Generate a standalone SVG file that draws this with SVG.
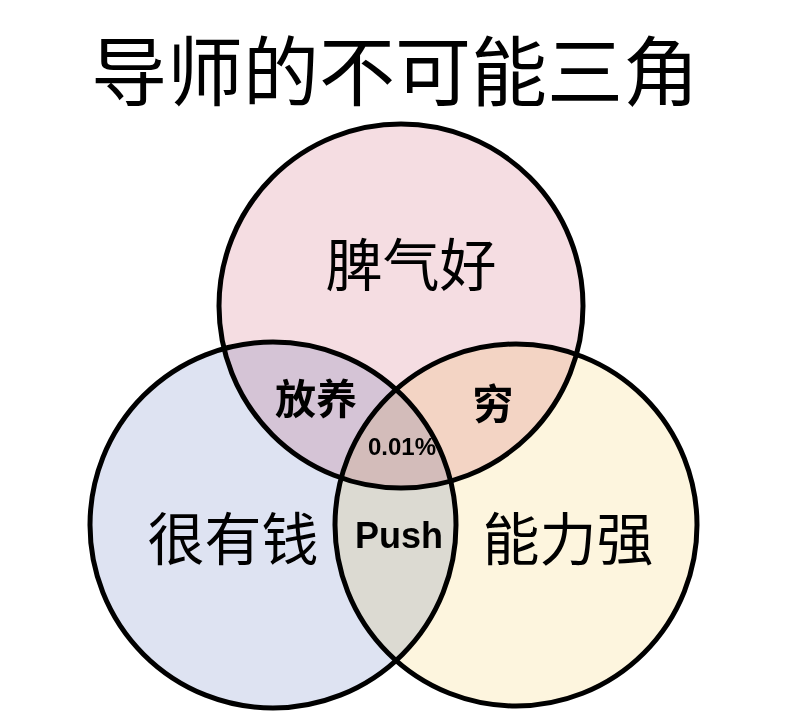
<svg xmlns="http://www.w3.org/2000/svg" width="796" height="724" viewBox="0 0 796 724">
<style>
.c{stroke:none;mix-blend-mode:multiply}
.o{fill:none;stroke:#000;stroke-width:5}
.t{font-family:"Liberation Sans","Noto Sans CJK SC",sans-serif;text-anchor:middle;fill:#000}
.b{font-weight:bold}
</style>
<rect width="796" height="724" fill="#fff"/>
<text class="t" x="395" y="100" font-size="76">导师的不可能三角</text>
<g id="fills" style="isolation:isolate">
<circle class="c" cx="401" cy="306" r="182" fill="#f5dde2"/>
<circle class="c" cx="273" cy="525" r="183" fill="#dee3f2"/>
<circle class="c" cx="516" cy="525" r="181" fill="#fdf5de"/>
</g>
<g id="connectors"></g>
<g id="top"><circle class="o" cx="401" cy="306" r="182"/><text class="t" x="411" y="286" font-size="57">脾气好</text></g>
<g id="left"><circle class="o" cx="273" cy="525" r="183"/><text class="t" x="233" y="560" font-size="57">很有钱</text></g>
<g id="right"><circle class="o" cx="516" cy="525" r="181"/><text class="t" x="568" y="560" font-size="57">能力强</text></g>
<g id="ab"><text class="t b" x="316" y="414" font-size="41">放养</text></g>
<g id="ac"><text class="t b" x="493" y="419" font-size="41">穷</text></g>
<g id="abc"><text class="t b" x="402" y="455" font-size="24">0.01%</text></g>
<g id="bc"><text class="t b" x="399" y="548" font-size="36">Push</text></g>
</svg>
